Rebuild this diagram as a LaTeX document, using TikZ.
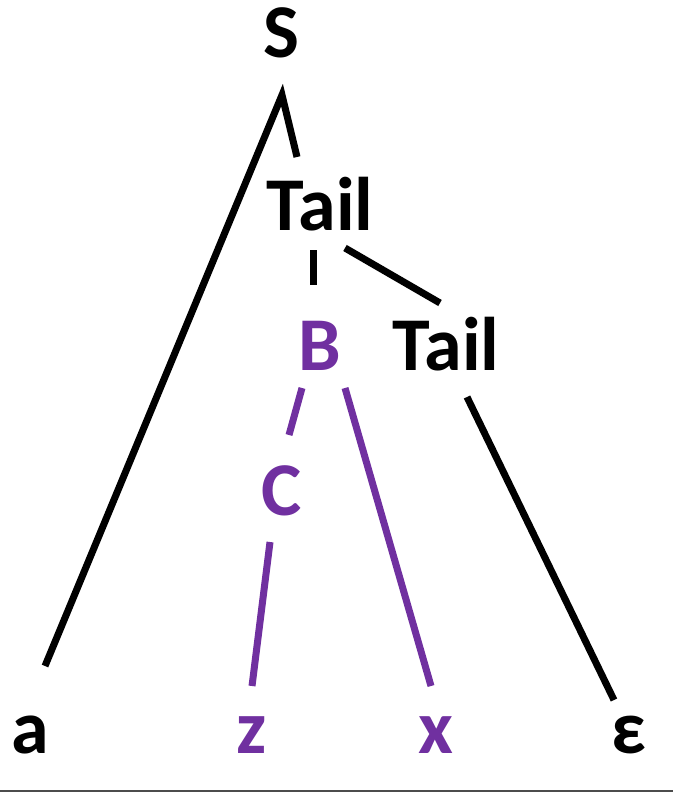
\documentclass[tikz,border=0pt]{standalone}
\usepackage{fontspec}
\setmainfont{Carlito}
\usepackage{xcolor}
\usepackage{tikz}
\usetikzlibrary{arrows.meta, positioning, calc}
\definecolor{officepurple}{HTML}{7030A0}

\begin{document}
\begin{tikzpicture}[x=1pt, y=-1pt,
    sym/.style={anchor=base, inner sep=0pt, font=\fontsize{76}{80}\selectfont\bfseries},
    term/.style={sym, text=officepurple},
    edge/.style={line width=7pt, line cap=butt},
    pedge/.style={edge, draw=officepurple}]
    \useasboundingbox (0,0) rectangle (673,792);

    % 非终结符
    \node[sym] (S) at (281,57) {S};
    \node[sym] (tail1) at (320,230) {Tail};
    \node[term] (B) at (320,370) {B};
    \node[sym] (tail2) at (446,370) {Tail};
    \node[term] (C) at (282,515) {C};

    % 叶子
    \node[sym] (a) at (30,753) {a};
    \node[term] (z) at (252,753) {z};
    \node[term] (x) at (436,753) {x};
    \node[sym] (eps) at (629,753) {ε};

    % 黑色边
    \draw[edge] ($(a.base)+(15,-87)$) -- ($(S.base)+(1,38)$) -- ($(tail1.base)+(-23,-73)$);
    \draw[edge] ($(tail1.base)+(-7,20)$) -- ($(B.base)+(-7,-85)$);
    \draw[edge] ($(tail1.base)+(25,18)$) -- ($(tail2.base)+(-6,-67)$);
    \draw[edge] ($(tail2.base)+(21,27)$) -- ($(eps.base)+(-15,-53)$);

    % 紫色边
    \draw[pedge] ($(B.base)+(-18,18)$) -- ($(C.base)+(7,-80)$);
    \draw[pedge] ($(B.base)+(25,18)$) -- ($(x.base)+(-5,-67)$);
    \draw[pedge] ($(C.base)+(-12,27)$) -- ($(z.base)+(0,-67)$);

    % 底线
    \draw[black!70, line width=1.5pt] (0,791) -- (673,791);
\end{tikzpicture}
\end{document}
